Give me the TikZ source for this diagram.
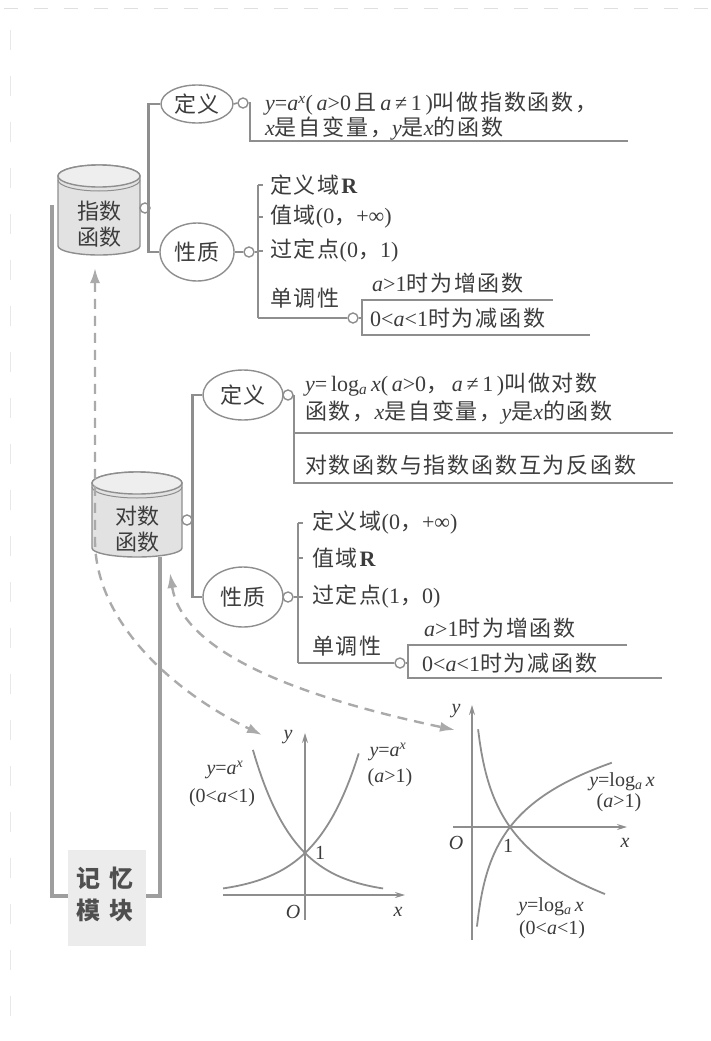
\documentclass[tikz,border=0pt]{standalone}
\usepackage{fontspec}
\setmainfont{Liberation Serif}
\newfontfamily\zhfont[LetterSpace=8]{Noto Sans CJK SC}
\newfontfamily\zhfontb{Noto Sans CJK SC}
\usetikzlibrary{shapes.geometric,arrows.meta}
\definecolor{txt}{HTML}{3C3C3C}
\definecolor{ln}{HTML}{8E8E8E}
\definecolor{barc}{HTML}{9E9E9E}
\definecolor{dsh}{HTML}{AAAAAA}
\definecolor{cylf}{HTML}{E2E2E2}
\definecolor{cylt}{HTML}{EEEEEE}
\newcommand\zhs[1]{{\zhfont #1}}
\newcommand\vi[1]{\textit{#1}}
\begin{document}
\begin{tikzpicture}[x=1pt,y=1pt,font=\fontsize{22}{26}\selectfont,
  txtnode/.style={anchor=west, inner sep=0pt, text=txt},
  branch/.style={draw=ln, line width=2.6pt},
  sub/.style={draw=ln, line width=1.6pt},
  knob/.style={circle, draw=ln, line width=1.4pt, fill=white, minimum size=10pt, inner sep=0pt},
  oval/.style={ellipse, draw=ln, line width=1.4pt, fill=white, inner sep=0pt, text=txt},
  bar/.style={draw=barc, line width=4pt},
  cyl/.style={draw=ln, line width=1.4pt, fill=cylf},
  dlink/.style={draw=dsh, line width=2.4pt, dash pattern=on 10pt off 7pt, {Latex[length=15pt,width=10pt]}-{Latex[length=15pt,width=10pt]}},
  curve/.style={draw=ln, line width=1.8pt},
  axis/.style={draw=ln, line width=1.4pt, -{Stealth[length=10pt,width=6pt]}},
  glabel/.style={inner sep=0pt, text=txt, font=\fontsize{20}{22}\selectfont}
]
\useasboundingbox (0,0) rectangle (711,-1041);
\fill[white] (0,0) rectangle (711,-1041);
% faint page marks
\draw[gray!25, line width=1pt, dash pattern=on 14pt off 16pt] (4,-9) -- (711,-9);
\draw[gray!18, line width=1pt, dash pattern=on 20pt off 26pt] (10,-30) -- (10,-1030);

% thick bars and memory block
\draw[bar] (52,-205) -- (52,-896) -- (68,-896);
\draw[bar] (160,-557) -- (160,-896) -- (146,-896);
\node[fill=gray!15, minimum width=78pt, minimum height=96pt, inner sep=0pt] (mem) at (107,-898) {};
\node[text=gray!62!black, font=\zhfontb\bfseries\fontsize{24}{32}\selectfont, align=center, inner sep=0pt] (memt) at (105,-894) {记\hspace{9pt}忆\\模\hspace{9pt}块};

% ===== exponential cylinder =====
\path[cyl] (58,-176) -- (58,-246) arc[start angle=180,end angle=360,x radius=41,y radius=9] -- (140,-176) arc[start angle=0,end angle=180,x radius=41,y radius=11] -- cycle;
\draw[ln, line width=1.4pt, fill=cylt] (99,-176) ellipse [x radius=41, y radius=11];
\draw[ln, line width=1pt] (58,-180) arc[start angle=180,end angle=360,x radius=41,y radius=11];
\node[text=txt, align=center, inner sep=0pt, font=\zhfontb\fontsize{22}{26}\selectfont] (ecyl) at (99,-224) {指数\\函数};

\node[oval, minimum width=72pt, minimum height=38pt] (ed) at (197,-104) {\zhs{定义}};
\node[oval, minimum width=74pt, minimum height=58pt] (ep) at (197,-252) {\zhs{性质}};
\node[knob] (ek) at (145,-208) {};
\draw[branch] (ed.west) -- ++(-12,0) |- (ep.west);

\node[knob] (edk) at (243,-103) {};
\coordinate (edend) at (628,-141);
\draw[sub] (ed.east) -- (edk.west);
\draw[sub] (edk.east) -- ++(1.5,0) |- (edend);
\node[txtnode] (ed1) at (265,-104) {\vi{y}=\vi{a}\textsuperscript{\vi{x}}(\,\vi{a}>0\,\zhs{且}\,\vi{a}\,≠\,1\,)\zhs{叫做指数函数，}};
\node[txtnode] (ed2) at (265,-129) {\vi{x}\zhs{是自变量，}\vi{y}\zhs{是}\vi{x}\zhs{的函数}};

\node[knob] (epk) at (249,-252) {};
\coordinate (ept) at (258,-185);
\coordinate (epb) at (258,-318);
\draw[sub] (ep.east) -- (epk.west);
\draw[sub] (epk.east) -- (epk.east -| ept);
\draw[sub] (ept) -- (epb);
\draw[sub] (ept) -- ++(5,0);
\draw[sub] (258,-217) -- ++(5,0);
\draw[sub] (258,-251) -- ++(5,0);
\node[txtnode] (ep1) at (270,-185) {\zhs{定义域}\textbf{R}};
\node[txtnode] (ep2) at (270,-217) {\zhs{值域}(0\zhs{，}+∞)};
\node[txtnode] (ep3) at (270,-251) {\zhs{过定点}(0\zhs{，}1)};
\node[txtnode] (ep4) at (270,-298) {\zhs{单调性}};
\node[knob] (emk) at (353,-318) {};
\draw[sub] (epb) -- (emk.west);
\draw[sub] (emk.east) -- (362,-318);
\draw[sub] (553,-300) -- (362,-300) -- (362,-335) -- (590,-335);
\node[txtnode] (em1) at (372,-283) {\vi{a}>1\zhs{时为增函数}};
\node[txtnode] (em2) at (370,-318) {0<\vi{a}<1\zhs{时为减函数}};

% ===== logarithm cylinder =====
\path[cyl] (92,-483) -- (92,-548) arc[start angle=180,end angle=360,x radius=45,y radius=9] -- (182,-483) arc[start angle=0,end angle=180,x radius=45,y radius=11] -- cycle;
\draw[ln, line width=1.4pt, fill=cylt] (137,-483) ellipse [x radius=45, y radius=11];
\draw[ln, line width=1pt] (92,-487) arc[start angle=180,end angle=360,x radius=45,y radius=11];
\node[text=txt, align=center, inner sep=0pt, font=\zhfontb\fontsize{22}{26}\selectfont] (lcyl) at (137,-529) {对数\\函数};

\node[oval, minimum width=80pt, minimum height=50pt] (ld) at (243,-395) {\zhs{定义}};
\node[oval, minimum width=80pt, minimum height=60pt] (lp) at (243,-597) {\zhs{性质}};
\node[knob] (lk) at (187,-520) {};
\draw[branch] (ld.west) -- ++(-10,0) |- (lp.west);

\node[knob] (ldk) at (288,-395) {};
\coordinate (ldend) at (673,-483);
\coordinate (ldmid) at (673,-433);
\draw[sub] (ldk.east) |- (ldend);
\draw[sub] (ldk.east |- ldmid) -- (ldmid);
\node[txtnode] (ld1) at (305,-385) {\vi{y}=\,log\textsubscript{\vi{a}}\,\vi{x}(\,\vi{a}>0\zhs{，}\,\vi{a}\,≠\,1\,)\zhs{叫做对数}};
\node[txtnode] (ld2) at (305,-413) {\zhs{函数，}\vi{x}\zhs{是自变量，}\vi{y}\zhs{是}\vi{x}\zhs{的函数}};
\node[txtnode] (ld3) at (305,-465) {\zhs{对数函数与指数函数互为反函数}};

\node[knob] (lpk) at (288,-597) {};
\coordinate (lpt) at (298,-523);
\coordinate (lpb) at (298,-663);
\draw[sub] (lpk.east) -- (lpk.east -| lpt);
\draw[sub] (lpt) -- (lpb);
\draw[sub] (lpt) -- ++(5,0);
\draw[sub] (298,-558) -- ++(5,0);
\draw[sub] (298,-597) -- ++(5,0);
\node[txtnode] (lp1) at (312,-523) {\zhs{定义域}(0\zhs{，}+∞)};
\node[txtnode] (lp2) at (312,-558) {\zhs{值域}\textbf{R}};
\node[txtnode] (lp3) at (312,-597) {\zhs{过定点}(1\zhs{，}0)};
\node[txtnode] (lp4) at (312,-646) {\zhs{单调性}};
\node[knob] (lmk) at (400,-663) {};
\draw[sub] (lpb) -- (lmk.west);
\draw[sub] (lmk.east) -- (408,-663);
\draw[sub] (627,-645) -- (408,-645) -- (408,-678) -- (662,-678);
\node[txtnode] (lm1) at (424,-628) {\vi{a}>1\zhs{时为增函数}};
\node[txtnode] (lm2) at (422,-663) {0<\vi{a}<1\zhs{时为减函数}};

% ===== dashed links =====
\coordinate (a1s) at (95,-268);
\coordinate (a1e) at (262,-735);
\draw[dlink] (a1s) -- (95,-540) .. controls (95,-620) and (170,-690) .. (a1e);
\coordinate (a2s) at (170,-573);
\coordinate (a2e) at (455,-730);
\draw[dlink] (a2s) .. controls (182,-650) and (290,-695) .. (a2e);

% ===== exponential graph =====
\draw[axis] (223,-895) -- (405,-895);
\draw[axis] (305,-920) -- (305,-733);
\draw[curve] plot[domain=-1.95:1.28, samples=60] ({305+42*\x}, {-895+42*exp(0.95*\x)});
\draw[curve] plot[domain=-1.24:1.86, samples=60] ({305+42*\x}, {-895+42*exp(-1.0*\x)});
\node[glabel] (gy1) at (288,-737) {\vi{y}};
\node[glabel] (gx1) at (398,-912) {\vi{x}};
\node[glabel] (go1) at (293,-912) {\vi{O}};
\node[glabel] (g11) at (320,-853) {1};
\node[glabel] (gl1) at (225,-770) {\vi{y}=\vi{a}\textsuperscript{\vi{x}}};
\node[glabel] (gl2) at (222,-798) {(0<\vi{a}<1)};
\node[glabel] (gr1) at (388,-752) {\vi{y}=\vi{a}\textsuperscript{\vi{x}}};
\node[glabel] (gr2) at (390,-778) {(\vi{a}>1)};

% ===== logarithm graph =====
\draw[axis] (453,-827) -- (627,-827);
\draw[axis] (472,-940) -- (472,-705);
\draw[curve] plot[domain=0.13:3.68, samples=80] ({472+38*\x}, {-827+38*ln(\x)/0.77});
\draw[curve] plot[domain=0.16:3.5, samples=80] ({472+38*\x}, {-827-38*ln(\x)/0.71});
\node[glabel] (gy2) at (456,-711) {\vi{y}};
\node[glabel] (go2) at (456,-843) {\vi{O}};
\node[glabel] (gx2) at (625,-843) {\vi{x}};
\node[glabel] (g12) at (508,-846) {1};
\node[glabel] (gu1) at (622,-782) {\vi{y}=log\textsubscript{\vi{a}}\,\vi{x}};
\node[glabel] (gu2) at (619,-803) {(\vi{a}>1)};
\node[glabel] (gd1) at (551,-907) {\vi{y}=log\textsubscript{\vi{a}}\,\vi{x}};
\node[glabel] (gd2) at (552,-930) {(0<\vi{a}<1)};
\end{tikzpicture}
\end{document}
